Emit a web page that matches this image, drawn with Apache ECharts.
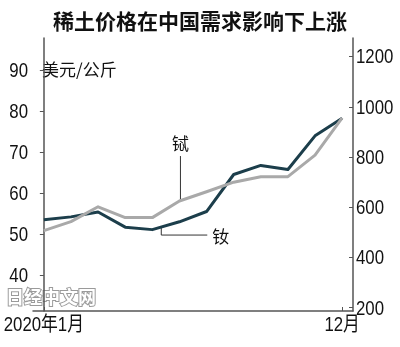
<!DOCTYPE html>
<html><head><meta charset="utf-8">
<script src="https://cdn.jsdelivr.net/npm/echarts@6/dist/echarts.min.js"></script>
<style>html,body{margin:0;padding:0;background:#fff}#c{width:400px;height:347px}</style>
</head><body><div id="c"></div>
<script>
const months = ['2020年1月','2月','3月','4月','5月','6月','7月','8月','9月','10月','11月','12月'];
const neodymium = [53.6, 54.3, 55.5, 51.8, 51.2, 53.1, 55.6, 64.6, 66.8, 65.8, 74.0, 78.3];
const terbium = [507, 543, 602, 559, 559, 625, 662, 700, 722, 722, 808, 956];
const leftTicks = [40, 50, 60, 70, 80, 90];
const rightTicks = [200, 400, 600, 800, 1000, 1200];
const xTickIdx = [0, 11];
const title = '稀土价格在中国需求影响下上涨';
const unit = '美元/公斤';
const nameNd = '钕';
const nameTb = '铽';

const DARK = '#1c3e4b', GRAY = '#a9a9a9', AX = '#555';
const chart = echarts.init(document.getElementById('c'), null, {renderer: 'canvas'});
chart.setOption({
  animation: false,
  backgroundColor: '#fff',
  title: {text: title, left: 'center', top: 6,
    textStyle: {fontSize: 21, fontWeight: 'bold', color: '#111', fontFamily: '"Noto Sans CJK SC", sans-serif'}},
  grid: {left: 33, right: 47, top: 38, bottom: 36},
  xAxis: {type: 'value', min: -0.4, max: 11.4,
    axisLine: {show: true, lineStyle: {color: AX, width: 1.5}},
    axisTick: {show: true, inside: true, length: 4, customValues: xTickIdx, lineStyle: {color: AX}},
    axisLabel: {show: false},
    splitLine: {show: false}},
  yAxis: [
    {type: 'value', min: 31.42, max: 97.78, position: 'left',
      axisLine: {show: true, lineStyle: {color: AX, width: 1.5}},
      axisTick: {show: true, inside: false, length: 4, customValues: leftTicks, lineStyle: {color: AX}},
      axisLabel: {show: false},
      splitLine: {show: false}},
    {type: 'value', min: 186.9, max: 1274.5, position: 'right',
      axisLine: {show: true, lineStyle: {color: AX, width: 1.5}},
      axisTick: {show: true, inside: true, length: 4, customValues: rightTicks, lineStyle: {color: AX}},
      axisLabel: {show: false},
      splitLine: {show: false}}
  ],
  series: [
    {name: nameNd, type: 'line', yAxisIndex: 0, symbol: 'none',
      lineStyle: {color: DARK, width: 3, join: 'round'},
      data: neodymium.map((v, i) => [i, v])},
    {name: nameTb, type: 'line', yAxisIndex: 1, symbol: 'none',
      lineStyle: {color: GRAY, width: 3, join: 'round'},
      data: terbium.map((v, i) => [i, v])}
  ]
});

// condensed tick labels placed through the library's scales
const NUMF = '21px "Liberation Sans", sans-serif';
const SX = 0.8;
const g = [];
leftTicks.forEach(v => {
  const p = chart.convertToPixel({xAxisIndex: 0, yAxisIndex: 0}, [-0.4, v]);
  g.push({type: 'text', x: p[0] - 5, y: p[1] + 1, scaleX: SX, style: {text: String(v), fill: '#111', align: 'right', verticalAlign: 'middle', font: NUMF}});
});
rightTicks.forEach(v => {
  const p = chart.convertToPixel({xAxisIndex: 0, yAxisIndex: 1}, [11.4, v]);
  g.push({type: 'text', x: p[0] + 3, y: p[1] + 1, scaleX: SX, style: {text: String(v), fill: '#111', align: 'left', verticalAlign: 'middle', font: NUMF}});
});
xTickIdx.forEach(i => {
  const p = chart.convertToPixel({xAxisIndex: 0, yAxisIndex: 0}, [i, 31.42]);
  g.push({type: 'text', x: p[0], y: p[1] + 14, scaleX: 0.84, style: {text: months[i], fill: '#111', align: 'center', verticalAlign: 'middle', font: '20px "Liberation Sans", "Noto Sans CJK SC", sans-serif'}});
});

const pTb = chart.convertToPixel({xAxisIndex: 0, yAxisIndex: 1}, [5, terbium[5]]);
const ndX = 4.33;
const ndY = neodymium[4] + (neodymium[5] - neodymium[4]) * (ndX - 4);
const pNd = chart.convertToPixel({xAxisIndex: 0, yAxisIndex: 0}, [ndX, ndY]);
const pUnit = chart.convertToPixel({xAxisIndex: 0, yAxisIndex: 0}, [-0.4, 90]);
g.push(
  {type: 'line', shape: {x1: pTb[0] + 1, y1: pTb[1], x2: pTb[0] + 1, y2: pTb[1] - 45}, style: {stroke: '#333', lineWidth: 1}},
  {type: 'text', x: pTb[0] + 1, y: pTb[1] - 57, style: {text: nameTb, fill: '#111', align: 'center', verticalAlign: 'middle', font: '17px "Noto Sans CJK SC"'}},
  {type: 'polyline', shape: {points: [[pNd[0], pNd[1]], [pNd[0], pNd[1] + 8], [pNd[0] + 46, pNd[1] + 8]]}, style: {stroke: '#333', lineWidth: 1, fill: null}},
  {type: 'text', x: pNd[0] + 51, y: pNd[1] + 9, style: {text: nameNd, fill: '#111', align: 'left', verticalAlign: 'middle', font: '17px "Noto Sans CJK SC"'}},
  {type: 'text', x: pUnit[0] + 9, y: pUnit[1], style: {text: unit, fill: '#111', align: 'left', verticalAlign: 'middle', font: '17px "Noto Sans CJK SC"'}},
  {type: 'text', x: 6, y: 297, style: {text: '日经中文网', fill: '#fff', stroke: '#9a9a9a', lineWidth: 2, align: 'left', verticalAlign: 'middle', font: 'bold 18px "Noto Sans CJK SC"'}}
);
chart.setOption({graphic: g});
</script></body></html>
